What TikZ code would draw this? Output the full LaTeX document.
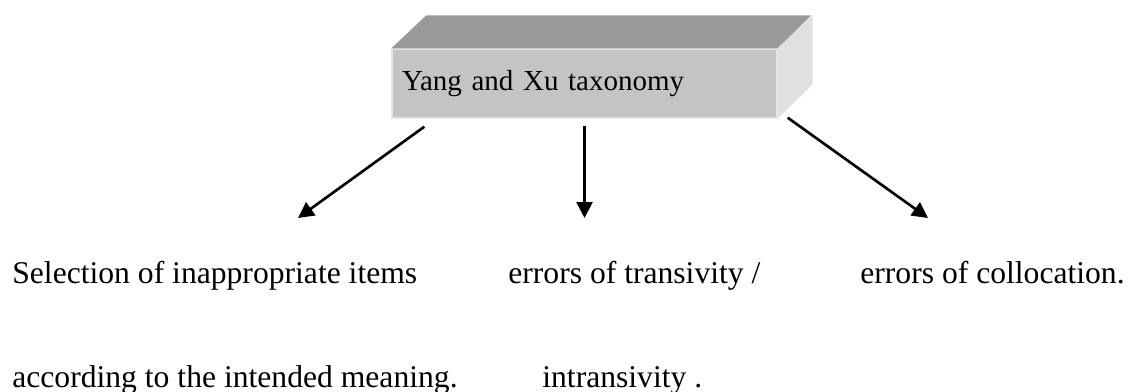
\documentclass[tikz,border=0pt]{standalone}
\usepackage{fontspec}
\setmainfont{Liberation Serif}
\usetikzlibrary{arrows.meta}
\tikzset{
  facebox/.style={draw=black!10, line width=0.8pt, fill=black!23, minimum width=7.7cm, minimum height=1.38cm,
    text width=7.3cm, inner xsep=0.2cm, align=left, font=\fontsize{16.5}{20}\selectfont},
  item/.style={anchor=base west, inner sep=0pt, font=\fontsize{18}{21}\selectfont},
  branch/.style={line width=1.5pt, -{Triangle[length=9pt,width=9pt]}}
}
\begin{document}
\begin{tikzpicture}[x=0.02cm,y=-0.02cm]
	\useasboundingbox (0,0) rectangle (1129,392);
	% the box
	\node[facebox] (taxo) at (584.5,83.5) {Yang and Xu taxonomy};
	\fill[black!40] (taxo.north west) -- ++(35,-33) -- ++(385,0) -- (taxo.north east) -- cycle;
	\fill[black!12] (taxo.north east) -- ++(35,-33) -- ++(0,69) -- (taxo.south east) -- cycle;
	% the three kinds
	\node[item] (sel1) at (12,283) {Selection of inappropriate items};
	\node[item] (sel2) at (12,387) {according to the intended meaning.};
	\node[item] (trans1) at (508,283) {errors of transivity /};
	\node[item] (trans2) at (542,387) {intransivity .};
	\node[item] (coll) at (860,283) {errors of collocation.};
	\coordinate (tipL) at (298,218);
	\coordinate (tipM) at (584.5,218);
	\coordinate (tipR) at (928,218);
	\draw[branch] ([shift={(33,8)}]taxo.south west) -- (tipL);
	\draw[branch] ([shift={(0,7)}]taxo.south) -- (tipM);
	\draw[branch] ([shift={(10,-1)}]taxo.south east) -- (tipR);
\end{tikzpicture}
\end{document}
